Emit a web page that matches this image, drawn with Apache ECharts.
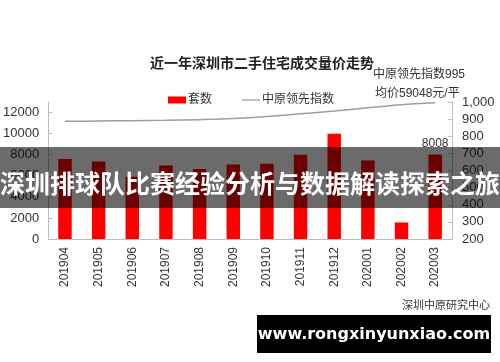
<!DOCTYPE html>
<html><head><meta charset="utf-8">
<script src="https://cdn.jsdelivr.net/npm/echarts@6/dist/echarts.min.js"></script>
<style>html,body{margin:0;padding:0;background:#fff}#c{width:500px;height:362px}</style>
</head><body><div id="c"></div>
<script>
var categories = ['201904','201905','201906','201907','201908','201909','201910','201911','201912','202001','202002','202003'];
var units = [7580, 7350, 5900, 6980, 6640, 7080, 7140, 7990, 9980, 7450, 1570, 8008];
var indexValues = [887, 889, 891, 893, 897, 903, 915, 931, 947, 966, 984, 995];
var leftTicks = {min: 0, max: 13000, interval: 2000};
var rightTicks = {min: 200, max: 1000, interval: 100};

var FONT = '"Liberation Sans", Arial, "Noto Sans CJK SC", sans-serif';
var chart = echarts.init(document.getElementById('c'), null, {renderer: 'canvas'});
var barData = units.map(function (v, i) {
  if (i === units.length - 1) {
    return {value: v, label: {show: true, position: 'top', distance: 5, color: '#333', fontSize: 12, fontFamily: FONT}};
  }
  return v;
});
chart.setOption({
  animation: false,
  textStyle: {fontFamily: FONT},
  title: {
    text: '近一年深圳市二手住宅成交量价走势',
    left: 145, top: 52,
    textStyle: {fontSize: 14, fontWeight: 'bold', color: '#222', fontFamily: FONT}
  },
  legend: {
    left: 163, top: 89,
    itemWidth: 18, itemHeight: 7, itemGap: 30,
    symbolKeepAspect: true,
    textStyle: {fontSize: 12, color: '#333', fontFamily: FONT, padding: [0, 0, 0, -3]},
    data: [{name: '套数', icon: 'rect'}, {name: '中原领先指数', icon: 'path://M0,0h18v1.3h-18z', itemStyle: {color: '#9e9e9e'}}]
  },
  grid: {left: 48, right: 48, top: 102, bottom: 123, containLabel: false},
  xAxis: {
    type: 'category', data: categories,
    axisLine: {lineStyle: {color: '#bdbdbd'}},
    axisTick: {inside: true, length: 4, lineStyle: {color: '#bdbdbd'}},
    axisLabel: {rotate: 90, color: '#333', fontSize: 12, margin: 8, fontFamily: FONT}
  },
  yAxis: [{
    type: 'value', min: leftTicks.min, max: leftTicks.max, interval: leftTicks.interval,
    axisLine: {show: true, lineStyle: {color: '#bdbdbd'}},
    axisTick: {show: true, inside: true, length: 4, lineStyle: {color: '#bdbdbd'}},
    splitLine: {show: false},
    axisLabel: {showMaxLabel: false, color: '#333', fontSize: 13, margin: 9, fontFamily: FONT,
      formatter: function (v) { return String(v); }}
  }, {
    type: 'value', min: rightTicks.min, max: rightTicks.max, interval: rightTicks.interval,
    position: 'right',
    axisLine: {show: true, lineStyle: {color: '#bdbdbd'}},
    axisTick: {show: true, inside: true, length: 4, lineStyle: {color: '#bdbdbd'}},
    splitLine: {show: false},
    axisLabel: {color: '#333', fontSize: 13, margin: 10, fontFamily: FONT,
      formatter: function (v) { return v >= 1000 ? Math.floor(v / 1000) + ',' + String(v % 1000).padStart(3, '0') : String(v); }}
  }],
  series: [{
    name: '套数', type: 'bar', data: barData, barWidth: '40%',
    itemStyle: {color: '#ff0000'}
  }, {
    name: '中原领先指数', type: 'line', yAxisIndex: 1, data: indexValues,
    symbol: 'none', smooth: 0.3,
    lineStyle: {color: '#9e9e9e', width: 1.5},
    itemStyle: {color: '#9e9e9e'}
  }],
  graphic: [
    {type: 'text', left: 373, top: 69, style: {text: '中原领先指数995', fill: '#333', font: '12px ' + FONT}},
    {type: 'text', left: 375, top: 88, style: {text: '均价59048元/平', fill: '#333', font: '12px ' + FONT}},
    {type: 'text', right: 10, top: 300, style: {text: '深圳中原研究中心', fill: '#333', font: '11px ' + FONT}},
    {type: 'rect', z: 100, shape: {x: 0, y: 147, width: 500, height: 61}, style: {fill: 'rgba(0,0,0,0.58)'}},
    {type: 'text', z: 101, x: 250, y: 183, style: {text: '深圳排球队比赛经验分析与数据解读探索之旅', fill: '#fff', font: 'bold 25px "Noto Sans CJK SC", sans-serif', textAlign: 'center', textVerticalAlign: 'middle'}},
    {type: 'rect', z: 100, shape: {x: 257, y: 315, width: 234, height: 38}, style: {fill: '#000'}},
    {type: 'text', z: 101, x: 374, y: 335, style: {text: 'www.rongxinyunxiao.com', fill: '#fff', font: 'bold 16px "DejaVu Sans", "Open Sans", sans-serif', textAlign: 'center', textVerticalAlign: 'middle'}}
  ]
});
</script></body></html>
